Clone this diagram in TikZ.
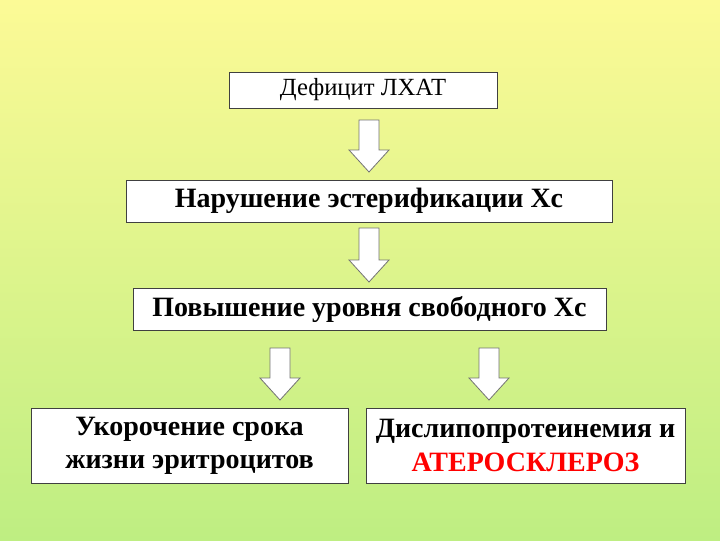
\documentclass[tikz,border=0pt]{standalone}
\usepackage{fontspec}
\setmainfont{Liberation Serif}
\begin{document}
\begin{tikzpicture}[x=0.75pt,y=-0.75pt,
  box/.style={draw=black!75,fill=white,line width=0.6pt,inner sep=0pt,align=center},
  barrow/.style={draw=black!55,fill=white,line width=0.6pt}]
\shade[top color={rgb,255:red,252;green,250;blue,150},bottom color={rgb,255:red,190;green,238;blue,130}] (0,0) rectangle (720,540);
\node[box,minimum width=268*0.75pt,minimum height=36*0.75pt,font=\fontsize{18.5}{21}\selectfont] (b1) at (363,90) {Дефицит ЛХАТ};
\node[box,minimum width=486*0.75pt,minimum height=42*0.75pt,font=\fontsize{21}{24}\selectfont\bfseries] (b2) at (369,201) {Нарушение эстерификации Хс};
\node[box,minimum width=473*0.75pt,minimum height=42*0.75pt,font=\fontsize{21}{24}\selectfont\bfseries] (b3) at (369.5,309) {Повышение уровня свободного Хс};
\node[box,minimum width=317*0.75pt,minimum height=75*0.75pt,font=\fontsize{21}{25}\selectfont\bfseries] (b4) at (189.5,445.5) {Укорочение срока\\жизни эритроцитов};
\node[box,minimum width=319*0.75pt,minimum height=75*0.75pt,font=\fontsize{21}{25}\selectfont\bfseries] (b5) at (525.5,445.5) {Дислипопротеинемия и\\\textcolor{red}{АТЕРОСКЛЕРОЗ}};
\foreach \cx/\ty/\by in {369/120/172, 369/228/282, 280/348/400, 489/348/400}{
  \draw[barrow] (\cx-10,\ty) -- (\cx+10,\ty) -- (\cx+10,\by-22) -- (\cx+20,\by-22) -- (\cx,\by) -- (\cx-20,\by-22) -- (\cx-10,\by-22) -- cycle;
}
\end{tikzpicture}
\end{document}
